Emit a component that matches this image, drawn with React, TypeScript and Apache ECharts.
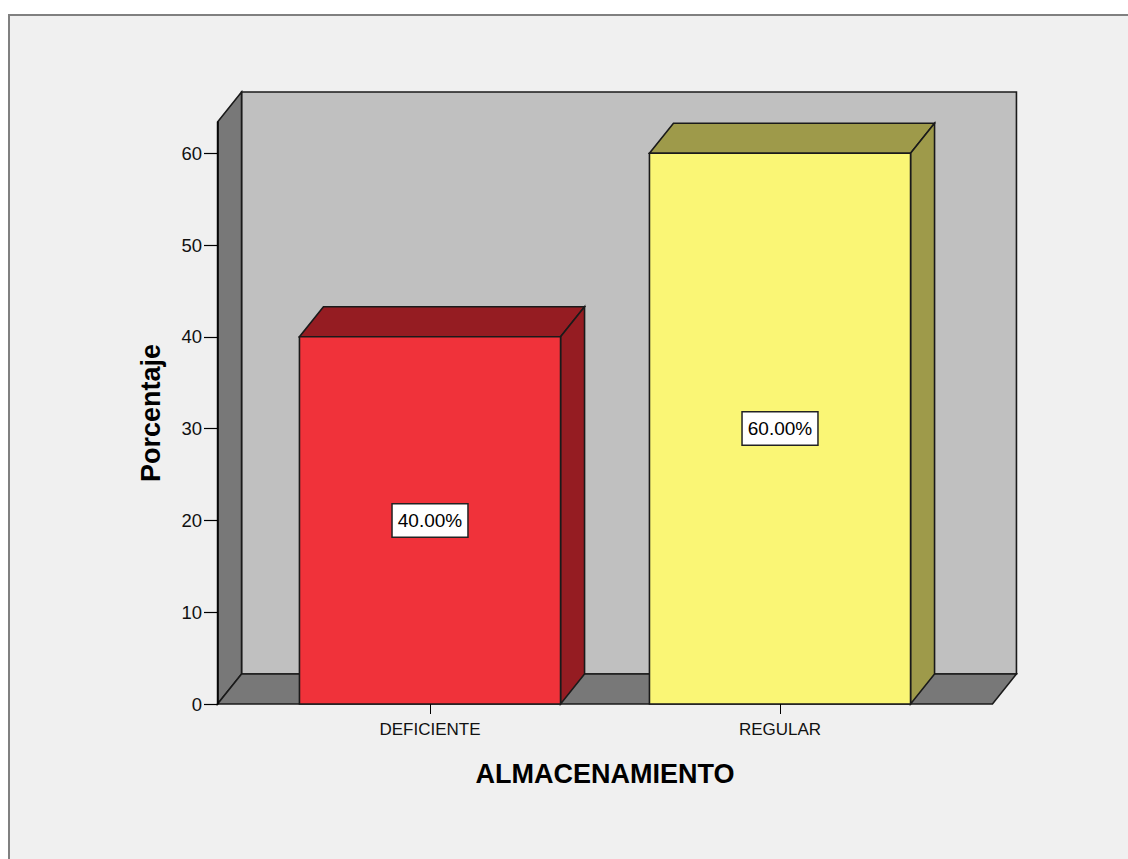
import React, { useEffect, useRef } from "react";
import * as echarts from "echarts";

const categories = ["DEFICIENTE", "REGULAR"];
const percentages = [40, 60];
const valueLabels = ["40.00%", "60.00%"];
const yTickValues = [0, 10, 20, 30, 40, 50, 60];
const frontColors = ["#f0323a", "#faf675"];
const shadeColors = ["#951c22", "#9e9a4a"];

const Y_MAX = 63.4;
const DEPTH_X = 24;
const DEPTH_Y = -30;
const BOX_EXT = 0.607;
const BAR_HALF = 0.373;
const FONT = "'Liberation Sans', Arial, sans-serif";
const EDGE = "#1a1a1a";

export default function App() {
  const ref = useRef<HTMLDivElement>(null);
  useEffect(() => {
    if (!ref.current) return;
    const chart = echarts.init(ref.current, undefined, { renderer: "svg" });
    const option: any = {
      animation: false,
      backgroundColor: "#ffffff",
      graphic: [
        {
          type: "rect",
          z: -10,
          shape: { x: 9, y: 15, width: 1300, height: 1000 },
          style: { fill: "#f0f0f0", stroke: "#808080", lineWidth: 2 },
        },
      ],
      grid: { left: 255, right: 173, top: 122, bottom: 155 },
      xAxis: {
        type: "category",
        data: categories,
        boundaryGap: true,
        axisLine: { show: false },
        axisTick: { show: true, alignWithLabel: true, length: 10, lineStyle: { color: "#000", width: 1 } },
        axisLabel: { margin: 17, color: "#111", fontSize: 17, fontFamily: FONT },
        name: "ALMACENAMIENTO",
        nameLocation: "middle",
        nameGap: 56,
        nameTextStyle: { fontSize: 27, fontWeight: "bold", color: "#000", fontFamily: FONT },
        z: 5,
      },
      yAxis: {
        type: "value",
        min: 0,
        max: Y_MAX,
        interval: 10,
        offset: 37,
        axisLine: { show: true, lineStyle: { color: "#000", width: 1.5 } },
        axisTick: { show: true, length: 14, customValues: yTickValues, lineStyle: { color: "#000", width: 1.2 } },
        axisLabel: { margin: 16, customValues: yTickValues, color: "#111", fontSize: 18.5, fontFamily: FONT },
        splitLine: { show: false },
        name: "Porcentaje",
        nameLocation: "middle",
        nameGap: 54,
        nameTextStyle: { fontSize: 27, fontWeight: "bold", color: "#000", fontFamily: FONT },
        z: 5,
      },
      series: [
        {
          type: "custom",
          clip: false,
          silent: true,
          z: 1,
          data: [[0, 0]],
          renderItem: (params: any, api: any) => {
            const band = api.size([1, 0])[0];
            const p0 = api.coord([0, 0]);
            const p1 = api.coord([categories.length - 1, Y_MAX]);
            const xL = p0[0] - band * BOX_EXT;
            const xR = p1[0] + band * BOX_EXT;
            const y0 = p0[1];
            const yT = p1[1];
            const st = (fill: string) => ({ fill, stroke: EDGE, lineWidth: 1.6 });
            return {
              type: "group",
              children: [
                {
                  type: "rect",
                  shape: { x: xL + DEPTH_X, y: yT + DEPTH_Y, width: xR - xL, height: y0 - yT },
                  style: st("#c0c0c0"),
                },
                {
                  type: "polygon",
                  shape: { points: [[xL, y0], [xL, yT], [xL + DEPTH_X, yT + DEPTH_Y], [xL + DEPTH_X, y0 + DEPTH_Y]] },
                  style: st("#787878"),
                },
                {
                  type: "polygon",
                  shape: { points: [[xL, y0], [xR, y0], [xR + DEPTH_X, y0 + DEPTH_Y], [xL + DEPTH_X, y0 + DEPTH_Y]] },
                  style: st("#787878"),
                },
              ],
            };
          },
        },
        {
          type: "custom",
          clip: false,
          z: 3,
          encode: { x: 0, y: 1 },
          data: percentages.map((v, i) => [i, v]),
          renderItem: (params: any, api: any) => {
            const i = api.value(0);
            const v = api.value(1);
            const band = api.size([1, 0])[0];
            const top = api.coord([i, v]);
            const base = api.coord([i, 0]);
            const mid = api.coord([i, v / 2]);
            const hw = band * BAR_HALF;
            const xl = top[0] - hw;
            const xr = top[0] + hw;
            const yt = top[1];
            const yb = base[1];
            const idx = params.dataIndex;
            const st = (fill: string) => ({ fill, stroke: EDGE, lineWidth: 1.6 });
            return {
              type: "group",
              children: [
                {
                  type: "polygon",
                  shape: { points: [[xl, yt], [xr, yt], [xr + DEPTH_X, yt + DEPTH_Y], [xl + DEPTH_X, yt + DEPTH_Y]] },
                  style: st(shadeColors[idx]),
                },
                {
                  type: "polygon",
                  shape: { points: [[xr, yb], [xr, yt], [xr + DEPTH_X, yt + DEPTH_Y], [xr + DEPTH_X, yb + DEPTH_Y]] },
                  style: st(shadeColors[idx]),
                },
                {
                  type: "rect",
                  shape: { x: xl, y: yt, width: xr - xl, height: yb - yt },
                  style: st(frontColors[idx]),
                },
                {
                  type: "text",
                  x: mid[0],
                  y: mid[1],
                  style: {
                    text: valueLabels[idx],
                    align: "center",
                    verticalAlign: "middle",
                    fill: "#000",
                    fontSize: 19,
                    fontFamily: FONT,
                    backgroundColor: "#ffffff",
                    borderColor: "#222",
                    borderWidth: 1.5,
                    padding: [7, 5, 6, 5],
                  },
                },
              ],
            };
          },
        },
      ],
    };
    chart.setOption(option);
    return () => chart.dispose();
  }, []);
  return (
    <div
      ref={ref}
      style={{ position: "fixed", left: 0, top: 0, width: 1128, height: 859 }}
    />
  );
}
